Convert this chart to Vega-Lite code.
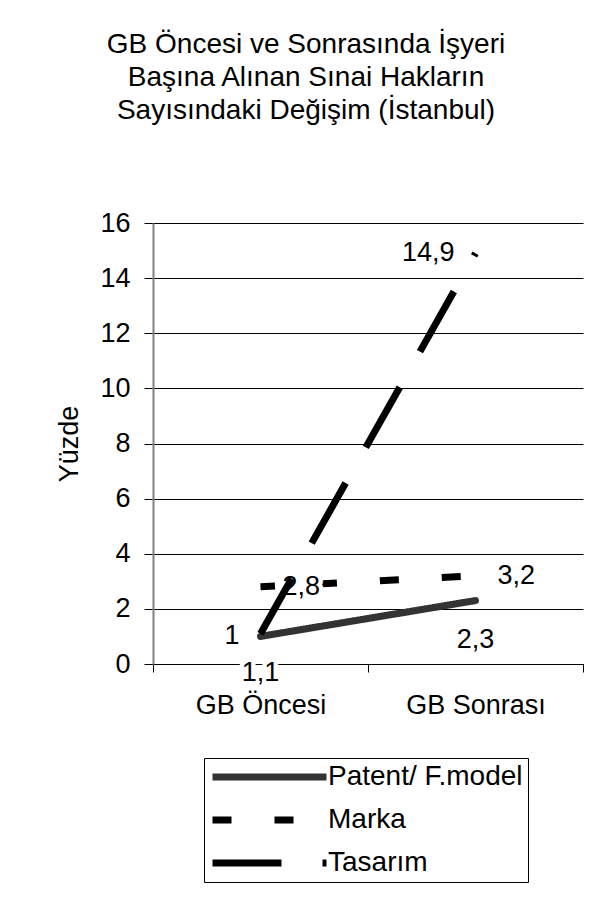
{
  "$schema": "https://vega.github.io/schema/vega-lite/v6.json",
  "width": 430,
  "height": 441,
  "autosize": {"type": "none"},
  "padding": {"left": 153, "top": 223, "right": 23, "bottom": 258},
  "background": "white",
  "title": {
    "text": ["GB Öncesi ve Sonrasında İşyeri", "Başına Alınan Sınai Hakların", "Sayısındaki Değişim (İstanbul)"],
    "font": "Liberation Sans",
    "fontSize": 28,
    "fontWeight": "normal",
    "color": "black",
    "lineHeight": 33,
    "anchor": "middle",
    "dx": -62,
    "offset": 84
  },
  "data": {
    "values": [
      {"series": "Patent/ F.model", "period": "GB Öncesi", "value": 1},
      {"series": "Patent/ F.model", "period": "GB Sonrası", "value": 2.3},
      {"series": "Marka", "period": "GB Öncesi", "value": 2.8},
      {"series": "Marka", "period": "GB Sonrası", "value": 3.2},
      {"series": "Tasarım", "period": "GB Öncesi", "value": 1.1},
      {"series": "Tasarım", "period": "GB Sonrası", "value": 14.9}
    ]
  },
  "encoding": {
    "x": {
      "field": "period",
      "type": "nominal",
      "bandPosition": 0.5,
      "scale": {"type": "band", "domain": ["GB Öncesi", "GB Sonrası"], "paddingInner": 0, "paddingOuter": 0},
      "axis": {
        "title": null,
        "labelAngle": 0,
        "labelFont": "Liberation Sans",
        "labelFontSize": 27,
        "labelColor": "black",
        "labelPadding": 20,
        "tickBand": "extent",
        "tickSize": 8,
        "tickColor": "black",
        "domainColor": "black",
        "domainWidth": 1,
        "grid": false
      }
    },
    "y": {
      "field": "value",
      "type": "quantitative",
      "scale": {"domain": [0, 16], "nice": false},
      "axis": {
        "title": "Yüzde",
        "titleFont": "Liberation Sans",
        "titleFontSize": 27,
        "titleFontWeight": "normal",
        "titleColor": "black",
        "titleX": -76,
        "titleY": 220.5,
        "titleAngle": -90,
        "titleBaseline": "alphabetic",
        "titleAlign": "center",
        "values": [0, 2, 4, 6, 8, 10, 12, 14, 16],
        "format": "d",
        "labelFont": "Liberation Sans",
        "labelFontSize": 27,
        "labelColor": "black",
        "labelPadding": 14,
        "tickSize": 9,
        "tickColor": "black",
        "domainColor": "#808080",
        "domainWidth": 2,
        "grid": true,
        "gridColor": "black",
        "gridWidth": 1,
        "gridOpacity": 1
      }
    }
  },
  "layer": [
    {
      "transform": [{"filter": "datum.series === 'Patent/ F.model'"}],
      "mark": {"type": "line", "strokeWidth": 7, "strokeCap": "round"},
      "encoding": {
        "color": {"field": "series", "type": "nominal", "scale": {"domain": ["Patent/ F.model", "Marka", "Tasarım"], "range": ["#333333", "#000000", "#000000"]}, "legend": {"orient": "none", "legendX": 51, "legendY": 535, "title": null}},
        "strokeDash": {"field": "series", "type": "nominal", "scale": {"domain": ["Patent/ F.model", "Marka", "Tasarım"], "range": [[1, 0], [19, 43], [69, 41]]}, "legend": {"orient": "none", "legendX": 51, "legendY": 535, "title": null}}
      }
    },
    {
      "transform": [{"filter": "datum.series === 'Marka'"}],
      "mark": {"type": "line", "strokeWidth": 7, "strokeCap": "butt", "strokeDashOffset": 4.5},
      "encoding": {
        "color": {"field": "series", "type": "nominal"},
        "strokeDash": {"field": "series", "type": "nominal"}
      }
    },
    {
      "transform": [{"filter": "(datum.series === 'Patent/ F.model' && datum.period === 'GB Öncesi') || (datum.series === 'Tasarım' && datum.period === 'GB Sonrası')"}],
      "encoding": {"text": {"field": "value", "type": "quantitative", "format": ".1~f"}},
      "layer": [
        {"mark": {"type": "text", "align": "right", "baseline": "middle", "dx": -21, "fontSize": 27, "font": "Liberation Sans", "stroke": "white", "strokeWidth": 9, "strokeJoin": "round", "fill": "white"}},
        {"mark": {"type": "text", "align": "right", "baseline": "middle", "dx": -21, "fontSize": 27, "font": "Liberation Sans", "fill": "black"}}
      ]
    },
    {
      "transform": [{"filter": "datum.series === 'Marka'"}],
      "encoding": {"text": {"field": "value", "type": "quantitative", "format": ".1~f"}},
      "layer": [
        {"mark": {"type": "text", "align": "left", "baseline": "middle", "dx": 22, "fontSize": 27, "font": "Liberation Sans", "stroke": "white", "strokeWidth": 9, "strokeJoin": "round", "fill": "white"}},
        {"mark": {"type": "text", "align": "left", "baseline": "middle", "dx": 22, "fontSize": 27, "font": "Liberation Sans", "fill": "black"}}
      ]
    },
    {
      "transform": [{"filter": "(datum.series === 'Patent/ F.model' && datum.period === 'GB Sonrası') || (datum.series === 'Tasarım' && datum.period === 'GB Öncesi')"}],
      "encoding": {"text": {"field": "value", "type": "quantitative", "format": ".1~f"}},
      "layer": [
        {"mark": {"type": "text", "align": "center", "baseline": "middle", "dy": 39, "fontSize": 27, "font": "Liberation Sans", "stroke": "white", "strokeWidth": 9, "strokeJoin": "round", "fill": "white"}},
        {"mark": {"type": "text", "align": "center", "baseline": "middle", "dy": 39, "fontSize": 27, "font": "Liberation Sans", "fill": "black"}}
      ]
    },
    {
      "transform": [{"filter": "datum.series === 'Tasarım'"}],
      "mark": {"type": "line", "strokeWidth": 7, "strokeCap": "butt", "strokeDashOffset": 6},
      "encoding": {
        "color": {"field": "series", "type": "nominal"},
        "strokeDash": {"field": "series", "type": "nominal"}
      }
    }
  ],
  "resolve": {"scale": {"color": "shared", "strokeDash": "shared"}},
  "config": {
    "font": "Liberation Sans",
    "view": {"stroke": null},
    "locale": {"number": {"decimal": ",", "thousands": ".", "grouping": [3], "currency": ["", " TL"]}},
    "legend": {
      "symbolType": "stroke",
      "symbolSize": 12996,
      "symbolStrokeWidth": 7,
      "labelFont": "Liberation Sans",
      "labelFontSize": 28,
      "labelColor": "black",
      "labelLimit": 400,
      "labelOffset": -2,
      "padding": 5,
      "strokeColor": "black",
      "fillColor": "white",
      "clipHeight": 28,
      "rowPadding": 15
    }
  }
}
